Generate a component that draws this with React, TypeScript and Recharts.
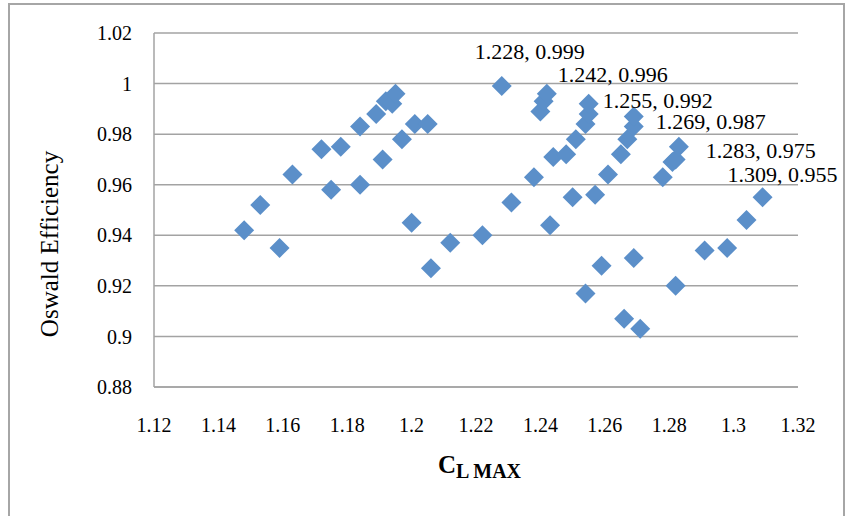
import React from 'react';
import {
  ScatterChart,
  Scatter,
  XAxis,
  YAxis,
  CartesianGrid,
  Label,
} from 'recharts';

// C_L max values
const CL_MAX = [
  1.148, 1.153, 1.159, 1.163, 1.172, 1.175, 1.178, 1.184, 1.184, 1.189, 1.191,
  1.192, 1.194, 1.195, 1.197, 1.2, 1.201, 1.205, 1.206, 1.212, 1.222,
  1.228, 1.231, 1.238, 1.24, 1.241, 1.242, 1.243, 1.244, 1.248, 1.25, 1.251,
  1.254, 1.254, 1.255, 1.255, 1.257, 1.259, 1.261, 1.265, 1.266, 1.267, 1.269,
  1.269, 1.269, 1.271, 1.278, 1.281, 1.282, 1.283, 1.282, 1.291, 1.298, 1.304,
  1.309,
];

// Oswald efficiency, same order
const EFFICIENCY = [
  0.942, 0.952, 0.935, 0.964, 0.974, 0.958, 0.975, 0.96, 0.983, 0.988, 0.97,
  0.993, 0.992, 0.996, 0.978, 0.945, 0.984, 0.984, 0.927, 0.937, 0.94,
  0.999, 0.953, 0.963, 0.989, 0.993, 0.996, 0.944, 0.971, 0.972, 0.955, 0.978,
  0.917, 0.984, 0.988, 0.992, 0.956, 0.928, 0.964, 0.972, 0.907, 0.978, 0.983,
  0.987, 0.931, 0.903, 0.963, 0.969, 0.97, 0.975, 0.92, 0.934, 0.935, 0.946,
  0.955,
];

// points that carry a data label
const LABELED_X = [1.228, 1.242, 1.255, 1.269, 1.283, 1.309];
const LABELED_Y = [0.999, 0.996, 0.992, 0.987, 0.975, 0.955];

const X_TICKS = [1.12, 1.14, 1.16, 1.18, 1.2, 1.22, 1.24, 1.26, 1.28, 1.3, 1.32];
const Y_TICKS = [0.88, 0.9, 0.92, 0.94, 0.96, 0.98, 1, 1.02];

// label placement relative to the marker (text left edge, baseline)
const LABEL_OFFSETS = [
  [-27, -27],
  [11, -12],
  [14, 4],
  [22, 13],
  [27, 11],
  [-35, -15],
];

const points = CL_MAX.map((x, i) => ({ x, y: EFFICIENCY[i] }));
const labeled = LABELED_X.map((x, i) => ({ x, y: LABELED_Y[i], idx: i }));

const FONT = '"Liberation Serif", "Times New Roman", serif';
const BLUE = '#5b8fc9';
const GRID = '#a3a3a3';

const fmt = (v: number) => String(Number(v.toFixed(2)));

const Diamond = (props: any) => {
  const { cx, cy } = props;
  const r = 10;
  return (
    <polygon
      points={`${cx},${cy - r} ${cx + r},${cy} ${cx},${cy + r} ${cx - r},${cy}`}
      fill={BLUE}
    />
  );
};

const PointLabel = (props: any) => {
  const { cx, cy, payload } = props;
  const [dx, dy] = LABEL_OFFSETS[payload.idx];
  return (
    <text x={cx + dx} y={cy + dy} fontFamily={FONT} fontSize={22} fill="#000">
      {`${payload.x.toFixed(3)}, ${payload.y.toFixed(3)}`}
    </text>
  );
};

const tickStyle = { fontFamily: FONT, fontSize: 20, fill: '#000' };

export default function App() {
  return (
    <div
      style={{
        position: 'absolute',
        left: 0,
        top: 0,
        width: 846,
        height: 516,
        overflow: 'hidden',
        background: '#fff',
      }}
    >
      <div
        style={{
          position: 'absolute',
          left: 8,
          top: 3,
          width: 837,
          height: 540,
          border: '2px solid #a6a6a6',
          boxSizing: 'border-box',
        }}
      />
      <div style={{ position: 'absolute', left: 0, top: 0 }}>
        <ScatterChart
          width={846}
          height={516}
          margin={{ top: 33, right: 48, bottom: 69, left: 0 }}
        >
          <CartesianGrid vertical={false} stroke={GRID} strokeWidth={1.5} />
          <XAxis
            type="number"
            dataKey="x"
            domain={[1.12, 1.32]}
            ticks={X_TICKS}
            tickFormatter={fmt}
            height={60}
            tickLine={false}
            tickSize={0}
            tickMargin={31}
            axisLine={{ stroke: GRID, strokeWidth: 1.5 }}
            tick={tickStyle}
            interval={0}
          >
            <Label
              content={() => (
                <text x={438} y={473} fontFamily={FONT} fontWeight="bold" fill="#000">
                  <tspan fontSize={25}>C</tspan>
                  <tspan fontSize={20} dy={5}>
                    L MAX
                  </tspan>
                </text>
              )}
            />
          </XAxis>
          <YAxis
            type="number"
            dataKey="y"
            domain={[0.88, 1.02]}
            ticks={Y_TICKS}
            tickFormatter={fmt}
            width={154}
            tickLine={false}
            tickSize={0}
            tickMargin={22}
            axisLine={{ stroke: GRID, strokeWidth: 1.5 }}
            tick={tickStyle}
            interval={0}
          >
            <Label
              content={() => (
                <text
                  x={58}
                  y={244}
                  transform="rotate(-90, 58, 244)"
                  textAnchor="middle"
                  fontFamily={FONT}
                  fontSize={25}
                  fill="#000"
                >
                  Oswald Efficiency
                </text>
              )}
            />
          </YAxis>
          <Scatter data={points} shape={<Diamond />} isAnimationActive={false} />
          <Scatter data={labeled} shape={<PointLabel />} isAnimationActive={false} />
        </ScatterChart>
      </div>
    </div>
  );
}
